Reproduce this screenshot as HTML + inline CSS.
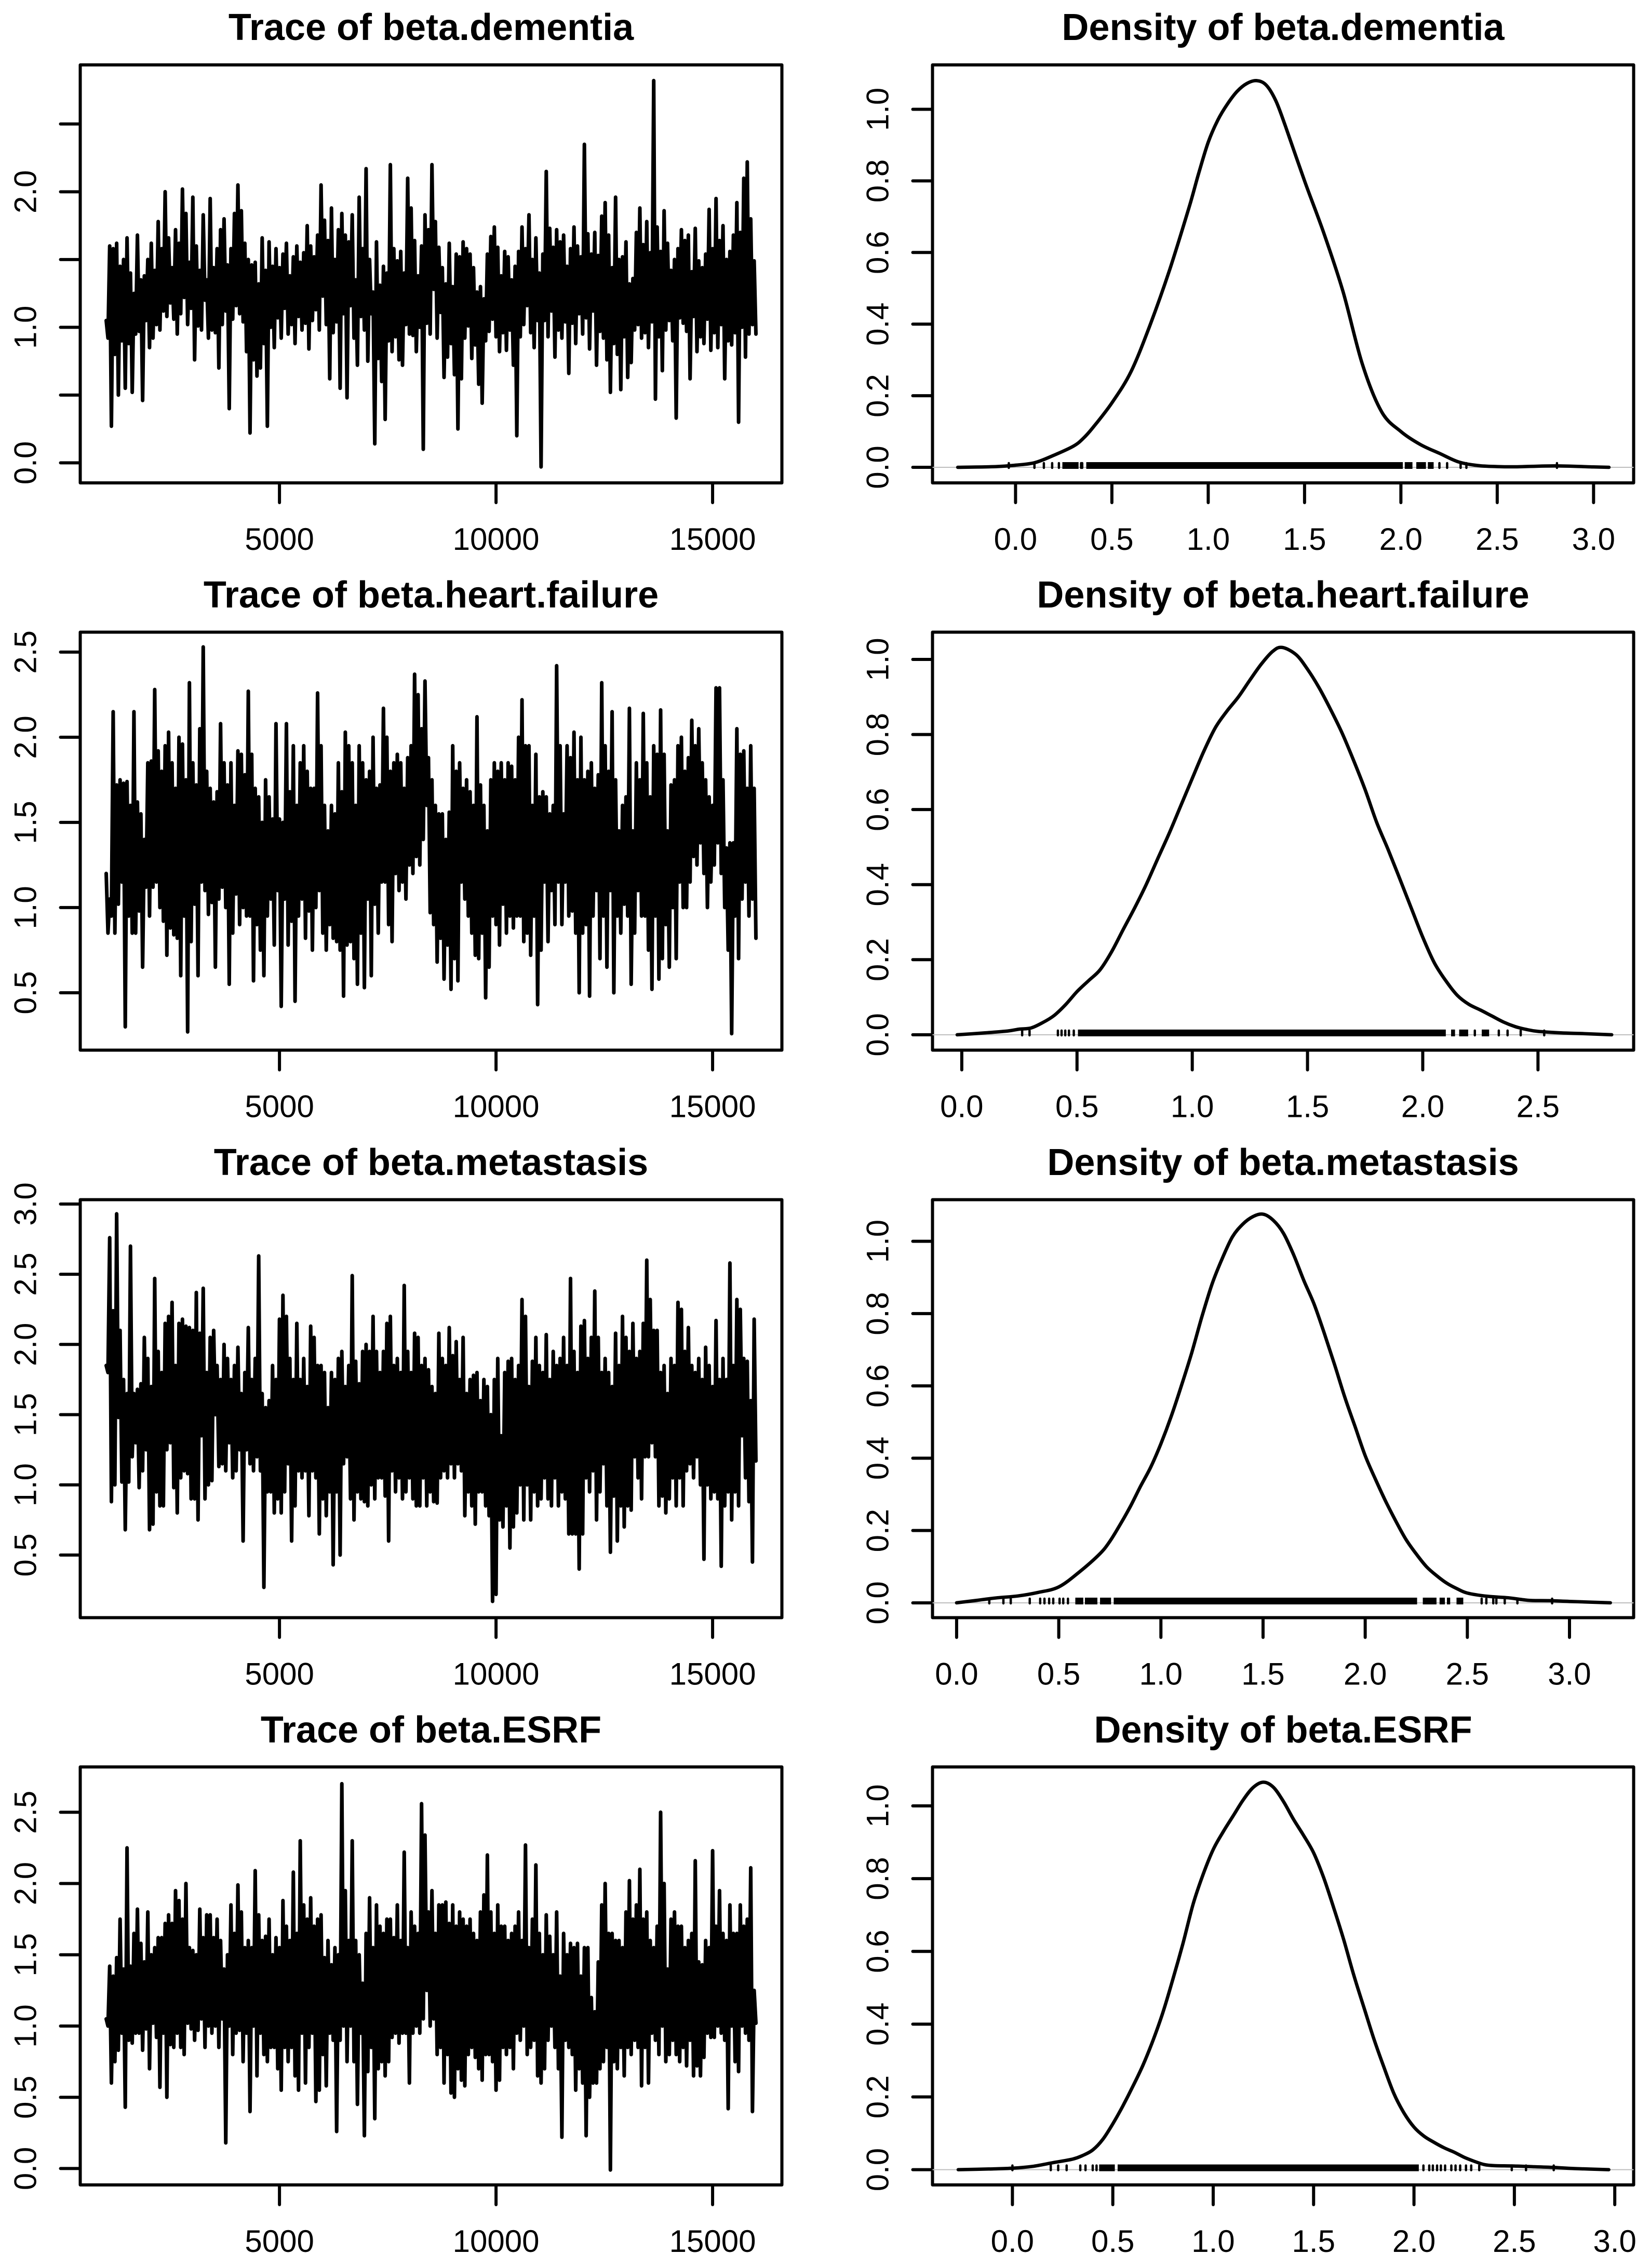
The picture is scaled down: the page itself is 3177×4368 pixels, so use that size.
<!DOCTYPE html>
<html lang="en">
<head>
<meta charset="utf-8">
<title>MCMC trace and density plots</title>
<style>
html,body{margin:0;padding:0;background:#fff;}
svg{display:block;}
text{font-family:"Liberation Sans",sans-serif;fill:#000;}
.main{font-size:72px;font-weight:bold;text-anchor:middle;}
</style>
</head>
<body>
<svg id="figure" xmlns="http://www.w3.org/2000/svg" width="3177" height="4368" viewBox="0 0 3177 4368">
<rect x="0" y="0" width="3177" height="4368" fill="#fff"/>
<text class="main" x="830" y="77">Trace of beta.dementia</text>
<text class="main" x="2470.5" y="77">Density of beta.dementia</text>
<text class="main" x="830" y="1170">Trace of beta.heart.failure</text>
<text class="main" x="2470.5" y="1170">Density of beta.heart.failure</text>
<text class="main" x="830" y="2263">Trace of beta.metastasis</text>
<text class="main" x="2470.5" y="2263">Density of beta.metastasis</text>
<text class="main" x="830" y="3356">Trace of beta.ESRF</text>
<text class="main" x="2470.5" y="3356">Density of beta.ESRF</text>
</svg>
<script>
const traceStart = 1000;
const traceThin = 40;
const traceTicks = [5000, 10000, 15000];

const traceDementia = [
1.05,.92,1.60,.27,1.58,.80,1.62,.50,1.45,.90,
1.50,.55,1.66,.88,1.40,.52,1.25,.95,1.68,.97,
1.35,.46,1.38,1.05,1.50,.85,1.62,.92,1.42,1.02,
1.78,.98,1.58,1.12,2.00,1.08,1.66,1.18,1.44,1.06,
1.72,.95,1.62,1.10,2.02,1.22,1.84,1.02,1.48,1.14,
1.96,.76,1.60,1.01,1.42,.98,1.83,1.20,1.35,.92,
1.95,.98,1.44,.96,1.58,.70,1.72,1.02,1.80,1.12,
1.46,.40,1.58,1.06,1.84,1.16,2.05,1.10,1.86,1.04,
1.62,.82,1.50,.22,1.46,.76,1.48,.64,1.32,.70,
1.66,.88,1.42,.27,1.63,1.00,1.45,.85,1.58,1.07,
1.44,.92,1.54,1.14,1.62,.95,1.38,1.02,1.52,.88,
1.60,1.08,1.48,.98,1.55,1.03,1.75,.84,1.60,1.05,
1.52,1.13,1.68,.98,2.05,1.23,1.79,1.02,1.64,.62,
1.88,.96,1.50,1.04,1.72,.55,1.84,1.10,1.68,.48,
1.63,1.16,1.83,.92,1.35,.72,1.96,1.08,1.58,.98,
2.17,.75,1.50,1.10,1.26,.14,1.63,.77,1.31,.60,
1.45,.32,1.40,.90,2.20,.82,1.58,.93,1.49,.76,
1.56,.72,1.40,1.02,2.10,.95,1.88,.94,1.64,.82,
1.38,1.00,1.60,.10,1.83,1.03,1.72,.95,2.20,1.28,
1.78,.92,1.59,1.11,1.44,.63,1.32,.78,1.62,.88,
1.30,.65,1.54,.25,1.52,.62,1.63,.92,1.58,1.01,
1.54,.77,1.44,.87,1.26,.58,1.30,.44,1.21,.90,
1.54,.97,1.67,1.06,1.74,.93,1.59,.82,1.38,.96,
1.56,.83,1.52,.98,1.35,.72,1.45,.20,1.56,.93,
1.74,1.02,1.58,1.16,1.83,.96,1.50,.85,1.66,1.05,
1.40,-.03,1.54,1.05,2.15,.93,1.73,1.12,1.59,.78,
1.72,.98,1.63,.92,1.68,1.04,1.45,.66,1.58,1.03,
1.74,.88,1.60,1.10,1.52,.95,2.35,1.07,1.69,.84,
1.54,1.12,1.70,.72,1.53,.97,1.82,.92,1.92,.76,
1.68,.52,1.44,.88,1.96,.80,1.50,.54,1.52,.93,
1.63,.63,1.32,.74,1.36,.98,1.70,1.02,1.88,.92,
1.61,.96,1.78,.85,1.55,1.04,2.82,.47,1.74,.93,
1.56,.68,1.86,.98,1.62,1.05,1.42,.90,1.50,.33,
1.58,1.07,1.72,1.03,1.64,.97,1.68,.62,1.41,1.08,
1.73,.82,1.49,.93,1.44,.88,1.54,1.06,1.87,.83,
1.58,.96,1.95,.85,1.64,1.02,1.75,.62,1.50,.90,
1.56,.87,1.68,.96,1.92,.30,1.70,1.00,2.10,.78,
2.22,.95,1.80,1.02,1.49,.95];

const traceHeartFailure = [
1.20,.85,1.05,.95,2.15,.85,1.72,1.02,1.75,1.15,
1.73,.30,1.74,.95,1.60,.85,2.15,.85,1.62,.98,
1.55,.65,1.40,1.12,1.85,.95,1.86,1.12,2.28,1.15,
1.92,1.00,1.80,.92,1.95,.72,2.03,.88,1.85,.84,
1.70,.82,2.00,.60,1.96,.95,1.75,.27,2.32,.80,
1.85,1.02,1.72,.60,2.05,1.15,2.53,1.10,1.80,.96,
1.70,1.03,1.62,.65,1.68,1.05,2.08,1.12,1.85,1.00,
1.72,.55,1.85,.85,1.60,1.08,1.92,.90,1.90,1.00,
1.78,.95,2.27,.95,1.90,.57,1.70,.90,1.65,.75,
1.50,.60,1.75,.95,1.65,1.05,1.52,.78,2.08,1.10,
1.52,.42,1.50,1.05,2.08,.78,1.68,.92,1.95,.45,
1.60,.95,1.85,1.05,1.95,.82,1.80,.98,1.70,.75,
1.70,1.00,2.26,1.10,1.95,.85,1.60,.75,1.45,.90,
1.60,.82,1.55,.80,1.85,.75,1.68,.48,2.03,.78,
1.95,.80,1.85,.70,1.60,.55,1.95,.85,1.85,.53,
1.75,1.05,1.80,.60,2.00,1.02,1.70,.85,1.72,1.15,
2.17,1.15,2.00,.90,1.80,.80,1.85,1.20,1.90,1.10,
1.85,1.15,1.70,1.05,1.88,1.25,1.95,1.20,2.37,1.30,
2.25,1.25,2.05,1.40,2.33,1.60,1.88,.97,1.75,.90,
1.60,.68,1.55,.82,1.55,.58,1.40,.78,1.56,.52,
1.95,.70,1.80,.57,1.85,1.15,1.70,1.05,1.75,.95,
1.68,.85,1.60,.72,2.12,.70,1.72,.85,1.60,.47,
1.45,.65,1.75,.95,1.85,.90,1.80,.78,1.85,1.02,
1.75,.85,1.85,.95,1.83,.88,1.75,.95,2.00,.95,
2.22,.80,1.95,.85,1.95,.72,1.60,.95,1.90,.43,
1.65,.75,1.68,1.15,1.65,.80,1.55,1.10,1.60,.90,
2.42,1.15,1.95,.90,1.55,1.15,1.95,.95,1.88,.98,
2.03,.85,1.75,.50,2.00,.85,1.75,.90,1.80,.48,
1.85,.95,1.70,1.10,1.78,.70,2.32,.95,1.95,.65,
1.80,1.10,2.15,.50,1.75,.95,1.45,.85,1.60,1.02,
1.65,.95,2.17,.55,1.45,.85,1.85,1.10,1.75,.95,
2.14,.95,1.85,.75,1.65,.52,1.95,.95,1.90,.58,
2.16,.70,1.90,.90,1.45,.65,1.72,1.00,1.75,.70,
1.95,1.15,2.00,1.00,1.80,1.00,1.88,1.15,2.10,1.30,
1.95,1.25,2.05,1.38,1.85,1.20,1.75,1.00,1.65,1.15,
1.60,1.25,2.29,1.38,2.29,1.20,1.75,1.00,1.35,.75,
1.38,.26,1.38,.95,2.05,.70,1.90,1.05,1.92,1.15,
1.70,.95,1.95,1.05,1.70,.82];

const traceMetastasis = [
1.85,1.80,2.76,.88,2.24,1.00,2.93,1.48,2.10,1.02,
1.75,.68,1.65,1.02,2.70,1.20,1.65,1.30,1.68,.98,
1.72,1.10,2.05,1.25,1.90,.68,1.70,.72,2.47,.95,
1.95,.85,1.80,.85,2.15,1.25,2.20,1.30,2.30,.98,
1.85,.80,2.15,1.05,2.18,1.10,2.13,1.08,2.12,.90,
2.10,.90,2.37,.75,2.08,1.35,2.40,.90,1.80,1.00,
2.05,1.03,2.10,1.50,1.85,1.13,1.75,1.15,2.00,1.10,
1.90,1.30,1.75,1.05,1.85,1.10,1.98,1.25,1.65,.60,
1.80,1.25,2.12,1.15,1.75,1.10,1.90,1.20,2.63,1.10,
1.65,.27,1.55,.95,1.60,.95,1.85,.80,1.75,.90,
2.18,.80,2.35,.95,2.20,1.15,1.90,.60,1.75,.85,
2.15,1.10,1.75,1.05,1.90,1.10,1.70,.78,2.13,1.10,
2.05,1.05,1.85,.65,1.85,.90,1.80,.78,1.55,.95,
1.80,.43,1.75,.95,1.90,.50,1.95,1.15,1.70,1.20,
1.85,.90,2.49,.75,1.88,.95,1.72,.90,1.95,.88,
2.00,.85,1.95,1.00,2.20,.90,1.95,1.05,1.80,1.05,
1.95,.92,2.15,.60,2.20,1.10,1.85,.95,1.90,1.05,
1.80,.90,2.42,.95,1.95,1.05,1.80,.90,2.08,.85,
2.05,.85,1.85,1.05,1.90,.85,1.82,.95,1.70,.88,
1.65,.87,2.08,1.05,1.90,1.10,1.85,1.05,2.12,1.15,
1.92,1.05,2.02,1.15,1.75,1.10,2.05,.78,1.65,.95,
1.75,.85,1.78,.72,1.80,.95,1.60,.95,1.75,.85,
1.70,.78,1.50,.17,1.75,.22,1.90,.75,1.35,.70,
1.80,.85,1.88,.55,1.90,.70,1.75,.80,1.85,1.00,
2.32,.75,2.20,1.00,1.70,.75,1.88,.95,2.05,.85,
1.85,.90,1.80,1.05,2.07,.90,1.75,.85,1.95,1.05,
1.85,.85,1.90,.95,2.05,.90,1.85,.65,2.47,.65,
1.95,.65,1.80,.40,2.13,.65,2.17,1.05,1.90,.95,
2.05,1.10,2.38,.75,2.05,.95,1.80,1.15,1.90,.85,
1.80,.52,1.70,.92,2.08,.60,1.85,.85,2.20,.70,
2.05,.85,1.95,.82,2.15,1.20,1.90,1.05,1.95,.90,
2.15,1.20,2.60,1.20,2.32,1.30,2.10,1.20,2.10,.85,
1.80,.92,1.85,.80,1.65,.90,1.90,1.05,1.85,.85,
2.30,1.05,2.25,.85,1.95,1.10,2.12,1.15,1.85,1.05,
1.80,1.20,1.90,1.00,1.75,.47,1.98,1.00,1.85,.90,
1.70,.95,2.17,.90,1.75,.42,1.90,.85,1.75,.95,
2.58,.75,1.85,.95,2.32,.85,2.25,1.35,1.90,1.05,
1.88,.88,1.60,.45,2.18,1.17];

const traceEsrf = [
1.05,1.00,1.42,.60,1.35,.75,1.48,.83,1.75,.95,
1.40,.43,2.25,.90,1.42,.88,1.65,.95,1.82,.95,
1.58,.83,1.45,.98,1.80,.70,1.50,1.02,1.55,.92,
1.62,.57,1.62,.95,1.72,.50,1.78,.87,1.72,.85,
1.95,.95,1.88,.85,1.75,.80,2.00,1.02,1.55,.98,
1.53,.90,1.50,.97,1.82,1.05,1.62,.85,1.78,1.00,
1.78,.95,1.62,1.00,1.75,.85,1.60,1.05,1.40,.18,
1.50,1.00,1.85,.80,1.65,.95,1.99,.97,1.80,.75,
1.55,.95,1.60,.40,1.55,1.00,2.09,.65,1.78,.95,
1.60,.80,1.63,.75,1.75,.85,1.50,.85,1.62,.70,
1.55,.55,1.88,.85,1.70,.75,1.60,.85,2.08,.65,
1.65,.55,2.30,.95,1.85,.60,1.75,.85,1.90,.95,
1.70,.47,1.75,.55,1.78,.80,1.48,.58,1.60,.95,
1.43,.90,1.55,.26,1.50,.90,2.70,1.00,1.95,.75,
1.60,1.00,2.30,.75,1.60,.45,1.50,.95,1.30,.23,
1.65,.68,1.90,.85,1.55,.35,1.85,.70,1.70,.75,
1.65,.65,1.75,.75,1.75,.92,1.62,.95,1.85,.88,
1.60,.95,2.22,.95,1.55,.60,1.80,.95,1.70,1.00,
1.65,.95,2.56,1.05,2.34,1.25,1.80,1.00,1.95,1.05,
1.65,.80,1.85,.85,1.85,.60,1.87,.80,1.72,.53,
1.85,.50,1.70,.70,1.80,.62,1.75,.58,1.70,.80,
1.75,.85,1.65,.78,1.60,.70,1.80,.62,1.92,.80,
2.20,.80,1.80,.75,1.65,.55,1.85,.62,1.70,.85,
1.70,.80,1.60,.85,1.65,.70,1.70,.95,1.80,.90,
1.60,1.00,2.27,.80,1.55,.85,1.75,.90,2.13,.65,
1.65,.60,1.50,.70,1.78,.90,1.63,1.00,1.50,.85,
1.80,.70,1.35,.22,1.65,.90,1.50,.85,1.58,.80,
1.55,.55,1.58,.70,1.35,.60,1.55,.23,1.55,.50,
1.20,.60,1.10,.60,1.45,.70,1.85,.75,2.00,.85,
1.65,-.01,1.65,.75,1.60,.70,1.60,.85,1.55,.65,
1.80,.85,2.02,.80,1.75,.90,1.85,.85,2.10,.58,
1.75,.85,1.80,.60,1.60,.95,1.55,.90,1.70,.80,
2.50,1.00,2.00,.75,1.40,.80,1.75,.90,1.80,.80,
1.70,.75,1.70,.85,1.55,.72,1.60,.90,1.65,.65,
2.16,.72,1.45,.65,1.43,.78,1.60,.95,1.55,.92,
2.23,.92,1.70,1.00,1.95,.95,1.65,.90,1.60,.42,
1.85,1.00,1.65,.75,1.65,.68,1.85,1.00,1.70,.95,
1.75,.90,2.11,.40,1.25,1.02];

const gridDementia = [-.30,-.1,0,.1,.2,.3,.35,.4,.5,.6,.7,.8,.9,.95,1.0,1.05,1.1,1.15,1.2,1.25,1.3,1.35,1.4,1.5,1.6,1.7,1.8,1.9,2.0,2.1,2.2,2.3,2.4,2.5,2.6,2.8,3.0,3.08];
const densityDementia = [0,.002,.006,.013,.034,.059,.08,.11,.18,.268,.40,.552,.725,.82,.908,.97,1.015,1.05,1.072,1.08,1.068,1.025,.954,.80,.654,.49,.288,.155,.10,.064,.039,.015,.005,.002,.0015,.004,.001,0];
const rugBandsDementia = [.243,.327, .367,2.01, 2.02,2.06, 2.08,2.13, 2.14,2.17];
const rugMarksDementia = [-.035,.098,.147,.19,.225,.34,.346,2.20,2.24,2.31,2.34,2.81];

const gridHeartFailure = [-.02,.1,.2,.25,.3,.35,.4,.45,.5,.55,.6,.65,.7,.75,.8,.85,.9,.95,1.0,1.05,1.1,1.15,1.2,1.25,1.3,1.35,1.39,1.45,1.5,1.55,1.6,1.65,1.7,1.75,1.8,1.85,1.9,1.95,2.0,2.05,2.1,2.15,2.2,2.25,2.3,2.35,2.4,2.45,2.5,2.6,2.7,2.82];
const densityHeartFailure = [0,.005,.01,.015,.018,.032,.051,.08,.115,.144,.173,.221,.28,.338,.40,.469,.537,.61,.683,.755,.818,.862,.90,.945,.988,1.022,1.032,1.013,.974,.925,.867,.804,.731,.653,.566,.493,.416,.338,.26,.192,.144,.105,.081,.066,.05,.034,.022,.014,.009,.005,.003,0];
const rugBandsHeartFailure = [.504,2.10, 2.123,2.14, 2.158,2.197, 2.256,2.288];
const rugMarksHeartFailure = [.262,.294,.417,.433,.449,.465,.486,2.226,2.33,2.368,2.425,2.527];

const gridMetastasis = [0,.1,.2,.3,.4,.5,.6,.7,.75,.8,.85,.9,.95,1.0,1.05,1.1,1.15,1.2,1.25,1.3,1.35,1.4,1.45,1.5,1.55,1.6,1.65,1.7,1.75,1.8,1.85,1.9,1.95,2.0,2.05,2.1,2.15,2.2,2.25,2.3,2.35,2.4,2.45,2.5,2.6,2.7,2.8,2.9,3.0,3.2];
const densityMetastasis = [0,.007,.014,.019,.029,.044,.085,.135,.17,.216,.266,.322,.375,.44,.515,.60,.69,.79,.881,.952,1.012,1.047,1.068,1.075,1.058,1.022,.962,.891,.826,.745,.659,.569,.488,.407,.342,.281,.226,.175,.135,.10,.075,.054,.039,.027,.018,.014,.007,.006,.004,0];
const rugBandsMetastasis = [.581,.62, .628,.689, .702,.756, .769,2.254, 2.282,2.349, 2.364,2.39, 2.40,2.416, 2.447,2.48];
const rugMarksMetastasis = [.16,.229,.265,.358,.409,.43,.453,.473,.504,.522,.545,2.57,2.593,2.627,2.642,2.683,2.745,2.915];

const gridEsrf = [-.27,-.1,0,.1,.2,.3,.35,.4,.45,.5,.55,.6,.65,.7,.75,.8,.85,.9,.95,1.0,1.05,1.1,1.15,1.2,1.25,1.3,1.35,1.4,1.45,1.5,1.55,1.6,1.65,1.7,1.75,1.8,1.85,1.9,1.95,2.0,2.05,2.1,2.15,2.2,2.25,2.3,2.35,2.4,2.5,2.6,2.7,2.8,2.97];
const densityEsrf = [0,.002,.004,.009,.019,.029,.039,.054,.083,.126,.175,.229,.287,.355,.433,.525,.623,.73,.812,.88,.929,.973,1.017,1.051,1.065,1.051,1.012,.963,.919,.871,.803,.72,.632,.535,.447,.36,.282,.209,.156,.117,.092,.075,.06,.048,.034,.023,.014,.011,.01,.008,.006,.003,0];
const rugBandsEsrf = [.432,.51, .524,2.024];
const rugMarksEsrf = [0,.191,.228,.27,.338,.364,.40,.419,2.047,2.076,2.094,2.115,2.134,2.155,2.186,2.207,2.23,2.259,2.285,2.325,2.487,2.558,2.696];

const yTicksDementia = [0, .5, 1, 1.5, 2, 2.5];
const yLabelsDementia = ["0.0", "", "1.0", "", "2.0", ""];
const yTicksHeartFailure = [.5, 1, 1.5, 2, 2.5];
const yLabelsHeartFailure = ["0.5", "1.0", "1.5", "2.0", "2.5"];
const yTicksMetastasis = [.5, 1, 1.5, 2, 2.5, 3];
const yLabelsMetastasis = ["0.5", "1.0", "1.5", "2.0", "2.5", "3.0"];
const yTicksEsrf = [0, .5, 1, 1.5, 2, 2.5];
const yLabelsEsrf = ["0.0", "0.5", "1.0", "1.5", "2.0", "2.5"];
const densityYTicks = [0, .2, .4, .6, .8, 1];
const densityYLabels = ["0.0", "0.2", "0.4", "0.6", "0.8", "1.0"];
const densityXTicksLong = [0, .5, 1, 1.5, 2, 2.5, 3];
const densityXLabelsLong = ["0.0", "0.5", "1.0", "1.5", "2.0", "2.5", "3.0"];
const densityXTicksShort = [0, .5, 1, 1.5, 2, 2.5];
const densityXLabelsShort = ["0.0", "0.5", "1.0", "1.5", "2.0", "2.5"];

const traceXLimits = [400, 16600];
const limitsTraceDementia = [-.148, 2.936];
const limitsTraceHeartFailure = [.163, 2.617];
const limitsTraceMetastasis = [.054, 3.031];
const limitsTraceEsrf = [-.115, 2.818];
const limitsDensityXDementia = [-.431, 3.208];
const limitsDensityYDementia = [-.0435, 1.124];
const limitsDensityXHeartFailure = [-.127, 2.915];
const limitsDensityYHeartFailure = [-.041, 1.0727];
const limitsDensityXMetastasis = [-.118, 3.314];
const limitsDensityYMetastasis = [-.041, 1.115];
const limitsDensityXEsrf = [-.398, 3.094];
const limitsDensityYEsrf = [-.042, 1.107];

const NS = "http://www.w3.org/2000/svg";
const figure = document.getElementById("figure");
const FRAME_H = 805;
const FRAME_W = 1351;
const TICK = 38;

function make(tag, attrs, parent) {
  const el = document.createElementNS(NS, tag);
  for (const k in attrs) el.setAttribute(k, attrs[k]);
  parent.appendChild(el);
  return el;
}
function scale(lim, a, b) {
  return v => a + (v - lim[0]) / (lim[1] - lim[0]) * (b - a);
}
function drawAxes(g, box, xs, ys, xTicks, xLabels, yTicks, yLabels, key) {
  const frame = make("rect", {x: box.l, y: box.t, width: box.r - box.l, height: box.b - box.t, fill: "none", stroke: "#000", "stroke-width": 6, "stroke-linejoin": "round"}, g);
  
  
  xTicks.forEach((t, i) => {
    const tick = make("line", {x1: xs(t), x2: xs(t), y1: box.b, y2: box.b + TICK, stroke: "#000", "stroke-width": 6, "stroke-linecap": "round"}, g);
    
    
    const label = make("text", {x: xs(t), y: box.b + 129, "text-anchor": "middle", "font-size": 60}, g);
    label.textContent = xLabels[i];
    
    
  });
  yTicks.forEach((t, i) => {
    const tick = make("line", {x1: box.l - TICK, x2: box.l, y1: ys(t), y2: ys(t), stroke: "#000", "stroke-width": 6, "stroke-linecap": "round"}, g);
    
    
    if (yLabels[i]) {
      const px = box.l - 85;
      const label = make("text", {x: px, y: ys(t), "text-anchor": "middle", "font-size": 60, transform: "rotate(-90 " + px + " " + ys(t) + ")"}, g);
      label.textContent = yLabels[i];
      
      
    }
  });
}
function smoothPath(pts) {
  let d = "M" + pts[0][0].toFixed(1) + " " + pts[0][1].toFixed(1);
  for (let i = 0; i < pts.length - 1; i++) {
    const p0 = pts[Math.max(0, i - 1)], p1 = pts[i], p2 = pts[i + 1], p3 = pts[Math.min(pts.length - 1, i + 2)];
    const c1x = p1[0] + (p2[0] - p0[0]) / 6, c1y = p1[1] + (p2[1] - p0[1]) / 6;
    const c2x = p2[0] - (p3[0] - p1[0]) / 6, c2y = p2[1] - (p3[1] - p1[1]) / 6;
    d += "C" + c1x.toFixed(1) + " " + c1y.toFixed(1) + " " + c2x.toFixed(1) + " " + c2y.toFixed(1) + " " + p2[0].toFixed(1) + " " + p2[1].toFixed(1);
  }
  return d;
}
function drawTrace(key, bottom, values, yLimits, yTicks, yLabels) {
  const g = make("g", {}, figure);
  
  
  const box = {l: 154.5, r: 154.5 + FRAME_W, t: bottom - FRAME_H, b: bottom};
  const xs = scale(traceXLimits, box.l, box.r);
  const ys = scale(yLimits, box.b, box.t);
  drawAxes(g, box, xs, ys, traceTicks, traceTicks.map(String), yTicks, yLabels, key + "-trace");
  let d = "";
  values.forEach((v, i) => {
    d += (i ? "L" : "M") + xs(traceStart + i * traceThin).toFixed(1) + " " + ys(v).toFixed(1);
  });
  const line = make("path", {d: d, fill: "none", stroke: "#000", "stroke-width": 7, "stroke-linejoin": "round", "stroke-linecap": "round"}, g);
  
  
}
function drawDensity(key, bottom, grid, density, rugBands, rugMarks, xLimits, yLimits, xTicks, xLabels) {
  const g = make("g", {}, figure);
  
  
  const box = {l: 1795.5, r: 1795.5 + FRAME_W - 1, t: bottom - FRAME_H, b: bottom};
  const xs = scale(xLimits, box.l, box.r);
  const ys = scale(yLimits, box.b, box.t);
  drawAxes(g, box, xs, ys, xTicks, xLabels, densityYTicks, densityYLabels, key + "-density");
  const zero = make("line", {x1: box.l, x2: box.r, y1: ys(0), y2: ys(0), stroke: "#bdbdbd", "stroke-width": 2}, g);
  
  
  const rug = make("g", {}, g);
  
  
  for (let i = 0; i < rugBands.length; i += 2) {
    const run = make("rect", {x: xs(rugBands[i]), y: ys(0) - 10, width: xs(rugBands[i + 1]) - xs(rugBands[i]), height: 13, fill: "#000"}, rug);
    
    
  }
  rugMarks.forEach(v => {
    const mark = make("line", {x1: xs(v), x2: xs(v), y1: ys(0) - 8, y2: ys(0) + 1, stroke: "#000", "stroke-width": 4.5, "stroke-linecap": "round"}, rug);
    
    
  });
  const pts = grid.map((v, i) => [xs(v), ys(density[i])]);
  const curve = make("path", {d: smoothPath(pts), fill: "none", stroke: "#000", "stroke-width": 6.5, "stroke-linejoin": "round", "stroke-linecap": "round"}, g);
  
  
}

drawTrace("dementia", 930, traceDementia, limitsTraceDementia, yTicksDementia, yLabelsDementia);
drawDensity("dementia", 930, gridDementia, densityDementia, rugBandsDementia, rugMarksDementia, limitsDensityXDementia, limitsDensityYDementia, densityXTicksLong, densityXLabelsLong);
drawTrace("heart-failure", 2022.5, traceHeartFailure, limitsTraceHeartFailure, yTicksHeartFailure, yLabelsHeartFailure);
drawDensity("heart-failure", 2022.5, gridHeartFailure, densityHeartFailure, rugBandsHeartFailure, rugMarksHeartFailure, limitsDensityXHeartFailure, limitsDensityYHeartFailure, densityXTicksShort, densityXLabelsShort);
drawTrace("metastasis", 3115.5, traceMetastasis, limitsTraceMetastasis, yTicksMetastasis, yLabelsMetastasis);
drawDensity("metastasis", 3115.5, gridMetastasis, densityMetastasis, rugBandsMetastasis, rugMarksMetastasis, limitsDensityXMetastasis, limitsDensityYMetastasis, densityXTicksLong, densityXLabelsLong);
drawTrace("esrf", 4208, traceEsrf, limitsTraceEsrf, yTicksEsrf, yLabelsEsrf);
drawDensity("esrf", 4208, gridEsrf, densityEsrf, rugBandsEsrf, rugMarksEsrf, limitsDensityXEsrf, limitsDensityYEsrf, densityXTicksLong, densityXLabelsLong);
</script>
</body>
</html>
